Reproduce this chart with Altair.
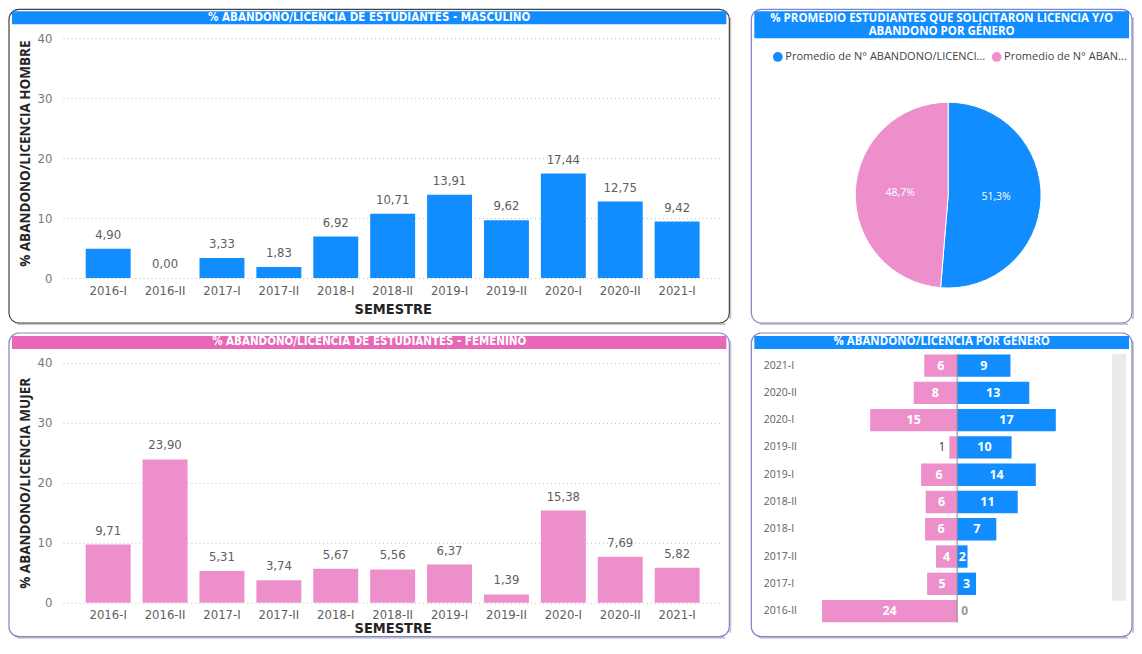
import altair as alt
import pandas as pd

# ---------------- data ----------------
semestres = ["2016-I", "2016-II", "2017-I", "2017-II", "2018-I", "2018-II",
             "2019-I", "2019-II", "2020-I", "2020-II", "2021-I"]
masculino = [4.90, 0.00, 3.33, 1.83, 6.92, 10.71, 13.91, 9.62, 17.44, 12.75, 9.42]
femenino = [9.71, 23.90, 5.31, 3.74, 5.67, 5.56, 6.37, 1.39, 15.38, 7.69, 5.82]
visibles = semestres[1:]          # rows visible in the scrolled "por genero" panel
genero = ["Promedio de N° ABANDONO/LICENCIA HOMBRE",
          "Promedio de N° ABANDONO/LICENCIA MUJER"]
promedio_pct = [51.3, 48.7]
y_ticks = [0, 10, 20, 30, 40]

BLUE = "#118DFF"
PINK = "#EC8FCB"
PINK_HDR = "#E668B6"
NARROW = "'Liberation Sans Narrow','DejaVu Sans Condensed',sans-serif"
SANS = "'Open Sans','Noto Sans',sans-serif"
GRAYTXT = "#605E5C"


def fmt2(v):
    return f"{v:.2f}".replace(".", ",")


df = pd.DataFrame({"semestre": semestres, "m": masculino, "f": femenino})
df["m_lbl"] = df["m"].map(fmt2)
df["f_lbl"] = df["f"].map(fmt2)
df["m_r"] = df["m"].round().astype(int).astype(str)
df["f_r"] = df["f"].round().astype(int).astype(str)

one = pd.DataFrame({"z": [0]})


def decor(x1, x2, y1, y2, stroke, hdr_color, hy1, hy2, lines, font, fsize):
    layers = []
    sh = dict(color="#c4c4c4", strokeWidth=2, opacity=0.9)
    layers.append(alt.Chart(one).mark_rule(**sh).encode(
        x=alt.value(x2 + 1), y=alt.value(y1 + 8), y2=alt.value(y2 - 4)))
    layers.append(alt.Chart(one).mark_rule(**sh).encode(
        x=alt.value(x1 + 8), x2=alt.value(x2 - 4), y=alt.value(y2 + 1)))
    layers.append(alt.Chart(one).mark_rect(cornerRadius=10, fill="white", fillOpacity=0,
                                           stroke=stroke, strokeWidth=1.2).encode(
        x=alt.value(x1), x2=alt.value(x2), y=alt.value(y1), y2=alt.value(y2)))
    layers.append(alt.Chart(one).mark_rect(fill=hdr_color).encode(
        x=alt.value(x1 + 3), x2=alt.value(x2 - 3), y=alt.value(hy1), y2=alt.value(hy2)))
    for txt, ty in lines:
        layers.append(alt.Chart(pd.DataFrame({"t": [txt]})).mark_text(
            font=font, fontSize=fsize, fontWeight="bold", color="white",
            align="center", baseline="middle").encode(
            x=alt.value((x1 + x2) / 2), y=alt.value(ty), text="t:N"))
    return layers


def vbar_panel(field, lbl, color, ytitle, ydomain, height, title_y, x_title_y, deco):
    xenc = alt.X("semestre:N", sort=semestres,
                 scale=alt.Scale(paddingInner=0.21, paddingOuter=0.4),
                 axis=alt.Axis(title="SEMESTRE", labelAngle=0, labelFont=NARROW, labelFontSize=13,
                               labelColor=GRAYTXT, labelPadding=6, ticks=False, domain=False, grid=False,
                               titleFont=NARROW, titleFontSize=14.5, titleFontWeight="bold",
                               titleColor="#252423", titleY=x_title_y, titleBaseline="middle"))
    yenc = alt.Y(f"{field}:Q", scale=alt.Scale(domain=ydomain, nice=False, zero=True),
                 axis=alt.Axis(title=ytitle, values=y_ticks, grid=True, gridDash=[1, 3],
                               gridColor="#bdbdbd", domain=False, ticks=False, labelPadding=11,
                               labelFont=NARROW, labelFontSize=13, labelColor="#777777",
                               titleFont=SANS, titleFontSize=13.5, titleFontWeight="bold",
                               titleColor="#252423", titleX=-37, titleY=title_y,
                               titleBaseline="middle", titleAlign="center", titleAngle=-90))
    bars = alt.Chart(df).mark_bar(color=color).encode(x=xenc, y=yenc)
    labels = alt.Chart(df).mark_text(font=NARROW, fontSize=13, color=GRAYTXT, dy=-14,
                                     baseline="middle").encode(x=xenc, y=yenc, text=f"{lbl}:N")
    return alt.layer(*deco, bars, labels).properties(width=660, height=height)


# ---------- top-left: masculino ----------
tl = vbar_panel("m", "m_lbl", BLUE, "% ABANDONO/LICENCIA HOMBRE", [0, 40], 240, 115, 31,
                decor(-54, 667, -29, 285, "#444444", BLUE, -27, -14,
                      [("% ABANDONO/LICENCIA DE ESTUDIANTES - MASCULINO", -20.5)], NARROW, 11.5))

# ---------- bottom-left: femenino ----------
bl = vbar_panel("f", "f_lbl", PINK, "% ABANDONO/LICENCIA MUJER", [0, 40 + 11 / 6], 251, 131, 26,
                decor(-54, 667, -19, 285, "#7F82CC", PINK_HDR, -16, -3,
                      [("% ABANDONO/LICENCIA DE ESTUDIANTES - FEMENINO", -9.5)], NARROW, 11.5))

# ---------- top-right: pie ----------
dpie = pd.DataFrame({"genero": genero, "pct": promedio_pct, "orden": [0, 1]})
dpie["lbl"] = dpie["pct"].map(lambda v: f"{v:.1f}%".replace(".", ","))
legend_expr = ("indexof(datum.label, 'HOMBRE') >= 0 ? truncate(datum.label, 34, 'right', '...')"
               " : truncate(datum.label, 22, 'right', '...')")
arc = alt.Chart(dpie).mark_arc(radius=93, stroke="white", strokeWidth=1).encode(
    theta=alt.Theta("pct:Q", stack=True),
    order=alt.Order("orden:Q"),
    color=alt.Color("genero:N", scale=alt.Scale(domain=genero, range=[BLUE, PINK]),
                    legend=alt.Legend(orient="none", legendX=-24, legendY=13, direction="horizontal",
                                      title=None, symbolType="circle", symbolSize=95,
                                      symbolStrokeWidth=0, labelFont=SANS, labelFontSize=11,
                                      labelColor="#444444", labelExpr=legend_expr, labelLimit=300,
                                      columnPadding=5, labelOffset=2, padding=0)),
    x=alt.value(152), y=alt.value(157))
arc_txt = alt.Chart(dpie).mark_text(radius=48, font=SANS, fontSize=10.5, color="white").encode(
    theta=alt.Theta("pct:Q", stack=True), order=alt.Order("orden:Q"), text="lbl:N",
    x=alt.value(152), y=alt.value(157))
tr = alt.layer(*decor(-45, 336, -29, 285, "#7F82CC", BLUE, -27, 0,
                      [("% PROMEDIO ESTUDIANTES QUE SOLICITARON LICENCIA Y/O", -19.5),
                       ("ABANDONO POR GÉNERO", -6.5)], SANS, 11.5),
               arc, arc_txt).properties(width=311, height=240)

# ---------- bottom-right: por genero ----------
dv = df[df["semestre"].isin(visibles)].copy()
dv["fneg"] = -dv["f"]
dv["fmid"] = -dv["f"] / 2
dv["mmid"] = dv["m"] / 2
dv["z"] = 0.0
xs = alt.Scale(domain=[-28.45, 26.5], nice=False, zero=False)
yenc = alt.Y("semestre:N", sort=visibles[::-1],
             scale=alt.Scale(paddingInner=0.18, paddingOuter=0.09),
             axis=alt.Axis(title=None, labelAlign="left", labelPadding=33, ticks=False, tickSize=0,
                           domain=False, grid=False, labelFont=SANS, labelFontSize=10.5,
                           labelColor=GRAYTXT))
scroll = alt.Chart(one).mark_rect(fill="#EBEBEB").encode(
    x=alt.value(316), x2=alt.value(330), y=alt.value(2), y2=alt.value(249))
bf = alt.Chart(dv).mark_bar(color=PINK).encode(
    x=alt.X("fneg:Q", scale=xs, axis=None), x2="z:Q", y=yenc)
bm = alt.Chart(dv).mark_bar(color=BLUE).encode(
    x=alt.X("m:Q", scale=xs, axis=None), x2="z:Q", y=yenc)
axis_line = alt.Chart(one).mark_rule(color="#8a8a8a", strokeWidth=1).encode(
    x=alt.X("z:Q", scale=xs, axis=None), y=alt.value(2), y2=alt.value(271))
tf_in = alt.Chart(dv).transform_filter("datum.f >= 1.5").mark_text(
    font=SANS, fontSize=12.5, fontWeight="bold", color="white").encode(
    x=alt.X("fmid:Q", scale=xs, axis=None), y=yenc, text="f_r:N")
tf_out = alt.Chart(dv).transform_filter("datum.f < 1.5").mark_text(
    font=SANS, fontSize=12, color="#444444", align="right", dx=-4).encode(
    x=alt.X("fneg:Q", scale=xs, axis=None), y=yenc, text="f_r:N")
tm_in = alt.Chart(dv).transform_filter("datum.m >= 1.5").mark_text(
    font=SANS, fontSize=12.5, fontWeight="bold", color="white").encode(
    x=alt.X("mmid:Q", scale=xs, axis=None), y=yenc, text="m_r:N")
tm_out = alt.Chart(dv).transform_filter("datum.m < 1.5").mark_text(
    font=SANS, fontSize=12, fontWeight="bold", color="#999999", align="left", dx=4).encode(
    x=alt.X("m:Q", scale=xs, axis=None), y=yenc, text="m_r:N")
br = alt.layer(*decor(-45, 336, -19, 285, "#7F82CC", BLUE, -16, -3,
                      [("% ABANDONO/LICENCIA POR GENERO", -9.5)], SANS, 11.5),
               scroll, bf, bm, axis_line, tf_in, tf_out, tm_in, tm_out).properties(width=311, height=273)

chart = alt.concat(tl, tr, bl, br, columns=2, spacing=74, bounds="flush")
chart = chart.resolve_scale(color="independent").properties(padding=0, background="white")
chart = chart.configure_view(stroke=None)

chart.save("out.html", embed_options={"renderer": "svg", "actions": False})
